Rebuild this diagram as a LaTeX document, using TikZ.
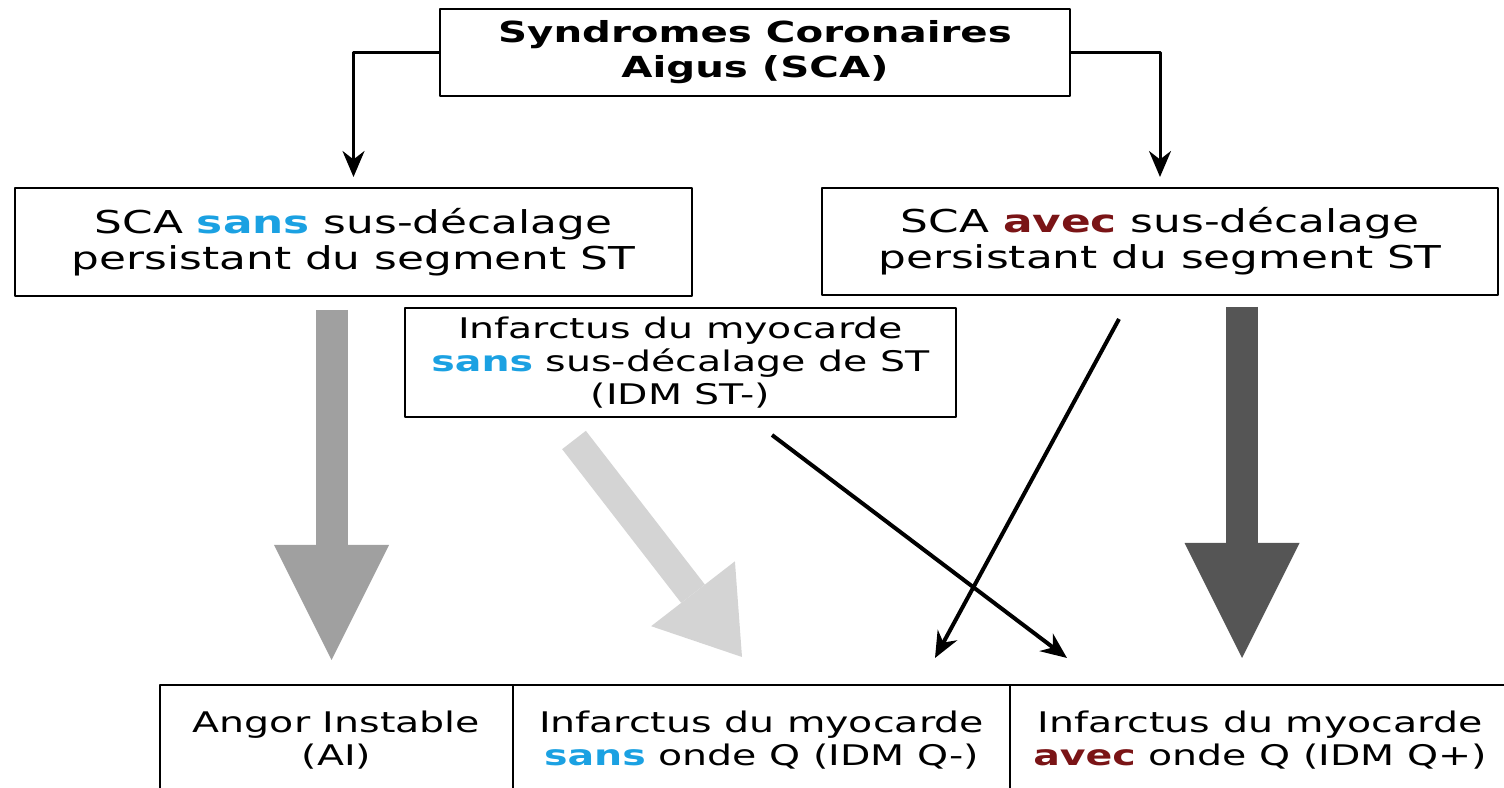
\documentclass[tikz,border=0pt]{standalone}
\usepackage{fontspec}
\setmainfont{DejaVu Sans}[FakeStretch=1.39]
\usetikzlibrary{arrows.meta}
\definecolor{sansblue}{RGB}{27,161,226}
\definecolor{avecred}{RGB}{122,20,22}
\definecolor{midgray}{RGB}{160,160,160}
\definecolor{palegray}{RGB}{212,212,212}
\definecolor{deepgray}{RGB}{85,85,85}
\newcommand{\sanstxt}{\textcolor{sansblue}{\textbf{sans}}}
\newcommand{\avectxt}{\textcolor{avecred}{\textbf{avec}}}
\tikzset{
  box/.style={draw,line width=2bp,align=center,inner sep=0pt},
  toptxt/.style={font=\bfseries\fontsize{29bp}{35bp}\selectfont},
  bigtxt/.style={font=\fontsize{31.5bp}{36bp}\selectfont},
  smalltxt/.style={font=\fontsize{28.4bp}{33bp}\selectfont},
  conn/.style={line width=3bp,-{Stealth[length=26bp,width=22bp]},shorten >=10bp},
  blackarrow/.style={line width=4bp,-{Stealth[length=26bp,width=22bp]}},
  blockarrow/.style={line width=32bp,-{Triangle[length=115bp,width=115bp,line width=0bp]}},
}

\begin{document}
\begin{tikzpicture}[line join=bevel]
\useasboundingbox (0bp,0bp) rectangle (1504bp,788bp);
%%
\node (sca) at (755bp,735.5bp) [box,toptxt,minimum width=630bp,minimum height=87bp] {Syndromes Coronaires\\Aigus (SCA)};
  \node (scasans) at (353.5bp,546bp) [box,bigtxt,minimum width=677bp,minimum height=108bp] {SCA \sanstxt{} sus-décalage\\persistant du segment ST};
  \node (scaavec) at (1160bp,546.5bp) [box,bigtxt,minimum width=676bp,minimum height=107bp] {SCA \avectxt{} sus-décalage\\persistant du segment ST};
  \node (idmst) at (680.5bp,425.5bp) [box,smalltxt,minimum width=551bp,minimum height=109bp] {Infarctus du myocarde\\\sanstxt{} sus-décalage de ST\\(IDM ST-)};
  \node (ai) at (336.5bp,48bp) [box,smalltxt,minimum width=353bp,minimum height=110bp] {Angor Instable\\(AI)};
  \node (idmqm) at (761.5bp,48bp) [box,smalltxt,minimum width=497bp,minimum height=110bp] {Infarctus du myocarde\\\sanstxt{} onde Q (IDM Q-)};
  \node (idmqp) at (1260bp,48bp) [box,smalltxt,minimum width=500bp,minimum height=110bp] {Infarctus du myocarde\\\avectxt{} onde Q (IDM Q+)};
%
  \coordinate (aitop) at (331.5bp,478bp);
  \coordinate (aitip) at (331.5bp,128bp);
  \coordinate (qmtop) at (574bp,348bp);
  \coordinate (qmtip) at (742bp,131bp);
  \coordinate (qptop) at (1242bp,481bp);
  \coordinate (qptip) at (1242bp,130bp);
  \coordinate (avecfoot) at (1119bp,469bp);
  \coordinate (qmend) at (935bp,130bp);
  \coordinate (idmstfoot) at (772bp,353bp);
  \coordinate (qpend) at (1067bp,130bp);
%
  \draw [conn] (sca.west) -| (scasans.north);
  \draw [conn] (sca.east) -| (scaavec.north);
  \draw [blockarrow,midgray] (aitop) -- (aitip);
  \draw [blockarrow,palegray,line width=30bp,-{Triangle[length=80bp,width=106bp,line width=0bp]}] (qmtop) -- (qmtip);
  \draw [blockarrow,deepgray] (qptop) -- (qptip);
  \draw [blackarrow] (avecfoot) -- (qmend);
  \draw [blackarrow] (idmstfoot) -- (qpend);
%
\end{tikzpicture}
\end{document}
